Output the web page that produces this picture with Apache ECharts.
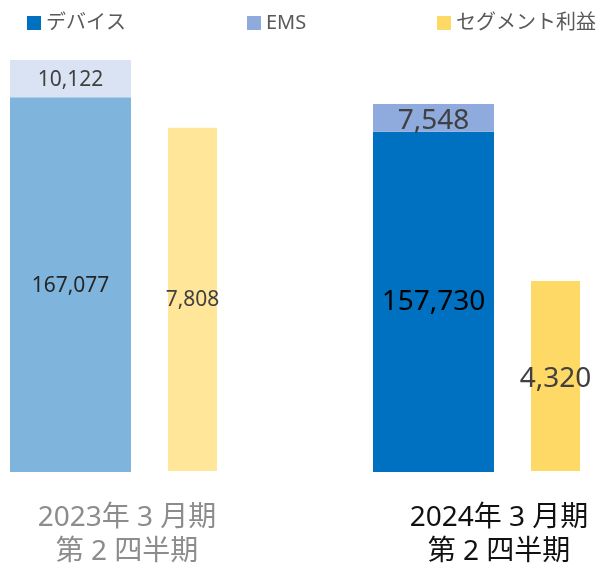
<!DOCTYPE html>
<html>
<head>
    <meta charset="utf-8">
    <title>ECharts</title>
    <script src="https://cdn.jsdelivr.net/npm/echarts@6/dist/echarts.min.js"></script>
</head>
<body style="margin:0">
    <div id="main" style="width:597px;height:571px;"></div>
    <script type="text/javascript">
        var myChart = echarts.init(document.getElementById('main'));

        // data
        var periods = ['2023年 3 月期\n第 2 四半期', '2024年 3 月期\n第 2 四半期'];
        var seriesNames = ['デバイス', 'EMS', 'セグメント利益'];
        var device = [167077, 157730];
        var ems = [10122, 7548];
        var profit = [7808, 4320];

        var FONT = "'Noto Sans', 'Noto Sans CJK JP', sans-serif";

        function fmt(p) {
            return String(p.value).replace(/\B(?=(\d{3})+(?!\d))/g, ',');
        }

        // old period = pale colours + small labels, new period = solid + big labels
        function item(v, i, oldColor, oldText, newText, newOffset) {
            return {
                value: v,
                itemStyle: i === 0 ? { color: oldColor } : undefined,
                label: i === 0
                    ? { fontSize: 21, color: oldText, offset: [0, 1] }
                    : { fontSize: 28, color: newText, offset: newOffset || [0, 0] }
            };
        }

        // one legend per item so each sits where the original has it
        var legendLeft = [22, 242, 432];
        var legends = seriesNames.map(function (name, i) {
            return {
                data: [name],
                left: legendLeft[i],
                top: 8,
                icon: 'rect',
                itemWidth: 14,
                itemHeight: 14,
                itemGap: 6,
                textStyle: { fontSize: 20, color: '#595959', fontFamily: FONT }
            };
        });

        var option = {
            legend: legends,
            grid: { left: -68, right: -61, top: 60, bottom: 99, outerBoundsMode: 'none' },
            xAxis: {
                type: 'category',
                data: [
                    { value: periods[0], textStyle: { color: '#8c8c8c', padding: [0, 0, 0, 27] } },
                    { value: periods[1], textStyle: { color: '#111', padding: [0, 0, 0, 45] } }
                ],
                axisLine: { show: false },
                axisTick: { show: false },
                axisLabel: {
                    margin: 29,
                    fontSize: 28,
                    lineHeight: 34,
                    fontFamily: FONT
                }
            },
            yAxis: [
                { type: 'value', min: 65550, max: 177200, show: false },
                { type: 'value', min: -23, max: 9347, show: false }
            ],
            series: [
                {
                    name: seriesNames[0],
                    type: 'bar',
                    stack: 'sales',
                    barWidth: 121,
                    barGap: '30.6%',
                    itemStyle: { color: '#0070c0' },
                    label: { show: true, position: 'inside', formatter: fmt, fontFamily: FONT },
                    data: device.map(function (v, i) { return item(v, i, '#7fb4dd', '#262626', '#000'); })
                },
                {
                    name: seriesNames[1],
                    type: 'bar',
                    stack: 'sales',
                    barWidth: 121,
                    barGap: '30.6%',
                    itemStyle: { color: '#8faadc' },
                    label: { show: true, position: 'inside', formatter: fmt, fontFamily: FONT },
                    data: ems.map(function (v, i) { return item(v, i, '#dae3f3', '#404040', '#404040', [0, 3]); })
                },
                {
                    name: seriesNames[2],
                    type: 'bar',
                    yAxisIndex: 1,
                    barWidth: 49,
                    barGap: '30.6%',
                    itemStyle: { color: '#ffd966' },
                    label: { show: true, position: 'inside', formatter: fmt, fontFamily: FONT },
                    data: profit.map(function (v, i) { return item(v, i, '#ffe699', '#404040', '#404040', [0, 3]); })
                }
            ]
        };

        myChart.setOption(option);
    </script>
</body>
</html>
